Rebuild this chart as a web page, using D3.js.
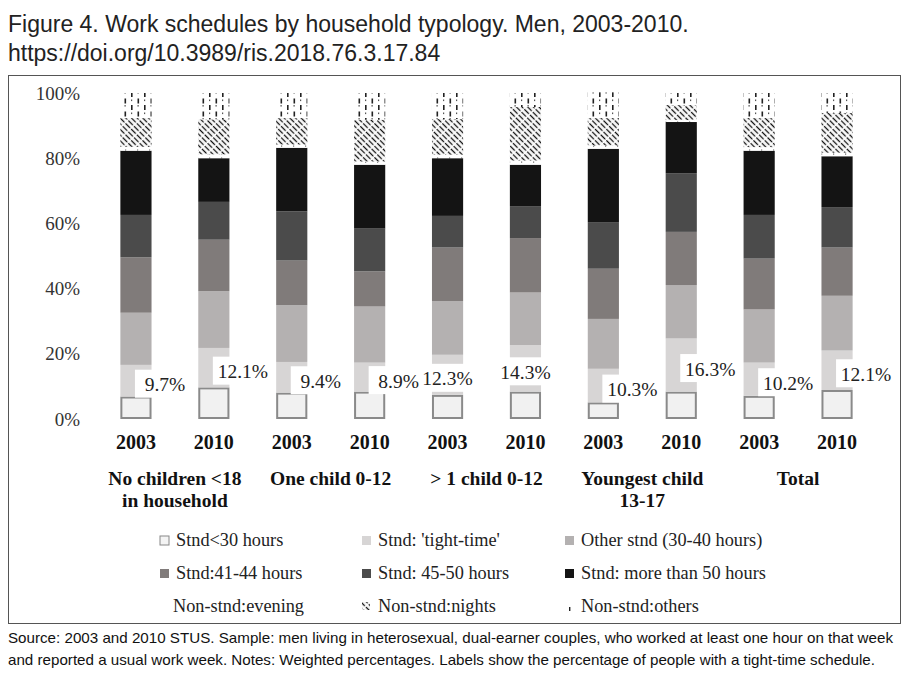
<!DOCTYPE html>
<html>
<head>
<meta charset="utf-8">
<script src="https://cdn.jsdelivr.net/npm/d3@7/dist/d3.min.js"></script>
<style>
  body { margin: 0; background: #fff; }
  svg { display: block; }
</style>
</head>
<body>
<svg id="chart" width="911" height="675"></svg>
<script>
// bars: household type x year
var years = ["2003", "2010", "2003", "2010", "2003", "2010", "2003", "2010", "2003", "2010"];
var groups = [["No children <18", "in household"], ["One child 0-12"], ["> 1 child 0-12"], ["Youngest child", "13-17"], ["Total"]];
var yTicks = [0, 20, 40, 60, 80, 100];

// percentages, stacked bottom to top
var under30  = [6.9, 9.7, 8.1, 8.4, 7.4, 8.4, 5.1, 8.4, 7.1, 8.9];
var tight    = [9.7, 12.1, 9.4, 8.9, 12.3, 14.3, 10.3, 16.3, 10.2, 12.1];
var other    = [16.0, 17.4, 17.4, 17.2, 16.5, 16.1, 15.3, 16.4, 16.3, 16.8];
var h41      = [17.0, 15.8, 13.7, 10.8, 16.4, 16.7, 15.4, 16.3, 15.6, 14.8];
var h45      = [13.0, 11.6, 15.1, 13.1, 9.7, 9.8, 14.3, 18.0, 13.4, 12.4];
var h50      = [19.7, 13.4, 19.5, 19.6, 17.7, 12.7, 22.5, 15.7, 19.7, 15.6];
var evening  = [1.2, 1.2, 1.0, 1.0, 1.1, 1.3, 1.0, 0.6, 1.1, 1.1];
var nights   = [8.8, 10.7, 8.1, 12.8, 10.9, 16.4, 8.4, 4.6, 8.9, 12.2];
var others   = [7.7, 8.1, 7.7, 8.2, 8.0, 4.3, 7.9, 3.7, 7.7, 6.1];

var seriesNames = ["Stnd<30 hours", "Stnd: 'tight-time'", "Other stnd (30-40 hours)",
  "Stnd:41-44 hours", "Stnd: 45-50 hours", "Stnd: more than 50 hours",
  "Non-stnd:evening", "Non-stnd:nights", "Non-stnd:others"];
var seriesValues = [under30, tight, other, h41, h45, h50, evening, nights, others];

var fills = ["#f1f1f1", "#d7d5d5", "#b4b1b1", "#807b7a", "#4b4b4b", "#141414",
  "url(#pEvening)", "url(#pNights)", "url(#pOthers)"];

var svg = d3.select("#chart");
var serif = "'Liberation Serif', 'Times New Roman', serif";
var sans = "'Liberation Sans', Arial, sans-serif";

// patterns
var defs = svg.append("defs");
var pe = defs.append("pattern").attr("id", "pEvening").attr("patternUnits", "userSpaceOnUse")
  .attr("width", 12).attr("height", 4);
pe.append("rect").attr("width", 12).attr("height", 4).attr("fill", "#fff");
pe.append("rect").attr("x", 5).attr("y", 1.5).attr("width", 1.2).attr("height", 1.2).attr("fill", "#666");

var pn = defs.append("pattern").attr("id", "pNights").attr("patternUnits", "userSpaceOnUse")
  .attr("width", 4).attr("height", 8).attr("patternTransform", "rotate(-45)");
pn.append("rect").attr("width", 4).attr("height", 8).attr("fill", "#fff");
pn.append("line").attr("x1", 1.5).attr("x2", 1.5).attr("y1", 0).attr("y2", 8)
  .attr("stroke", "#111").attr("stroke-width", 1.3).attr("stroke-dasharray", "6.5,1.5");

var po = defs.append("pattern").attr("id", "pOthers").attr("patternUnits", "userSpaceOnUse")
  .attr("width", 13).attr("height", 13);
po.append("rect").attr("width", 13).attr("height", 13).attr("fill", "#fff");
po.append("rect").attr("x", 1).attr("y", 1).attr("width", 1.6).attr("height", 5).attr("fill", "#222");
po.append("rect").attr("x", 7.5).attr("y", 7.5).attr("width", 1.6).attr("height", 5).attr("fill", "#222");
po.append("rect").attr("x", 7.5).attr("y", 1).attr("width", 1.2).attr("height", 1.6).attr("fill", "#555");
po.append("rect").attr("x", 1).attr("y", 8.5).attr("width", 1.2).attr("height", 1.6).attr("fill", "#555");

// title
svg.append("text").attr("x", 8).attr("y", 32)
  .attr("font-family", sans).attr("font-size", 23).attr("fill", "#222")
  .text("Figure 4. Work schedules by household typology. Men, 2003-2010.");
svg.append("text").attr("x", 8).attr("y", 61)
  .attr("font-family", sans).attr("font-size", 23).attr("fill", "#222")
  .text("https://doi.org/10.3989/ris.2018.76.3.17.84");

// frame
svg.append("rect").attr("x", 8.5).attr("y", 75.5).attr("width", 892).attr("height", 548)
  .attr("fill", "none").attr("stroke", "#555").attr("stroke-width", 1);

var x = d3.scaleBand().domain(d3.range(years.length)).range([97, 876]).paddingInner(0.6).paddingOuter(0.3);
var y = d3.scaleLinear().domain([0, 100]).range([419, 93]);

// y axis, no line
var yAxis = svg.append("g").attr("transform", "translate(80,0)")
  .call(d3.axisLeft(y).tickValues(yTicks).tickSize(0).tickPadding(0).tickFormat(function (d) { return d + "%"; }));
yAxis.select(".domain").remove();
yAxis.selectAll("text").attr("font-family", serif).attr("font-size", 19).attr("fill", "#333");

// stacked bars
var rows = years.map(function (yr, i) {
  var r = { i: i };
  seriesNames.forEach(function (s, k) { r[s] = seriesValues[k][i]; });
  return r;
});
var stacked = d3.stack().keys(seriesNames)(rows);

stacked.forEach(function (layer, k) {
  var g = svg.append("g");
  g.selectAll("rect").data(layer).join("rect")
    .attr("x", function (d) { return x(d.data.i) + (k === 0 ? 1 : 0); })
    .attr("width", x.bandwidth() - (k === 0 ? 2 : 0))
    .attr("y", function (d) { return y(d[1]) + (k === 0 ? 1 : 0); })
    .attr("height", function (d) { return Math.max(0, y(d[0]) - y(d[1]) - (k === 0 ? 2 : 0)); })
    .attr("fill", fills[k])
    .attr("stroke", k === 0 ? "#8a8a8a" : "none")
    .attr("stroke-width", k === 0 ? 2 : 0);
});

// tight-time labels with white background
var centered = [4, 5];
var tightLayer = stacked[1];
var labels = svg.append("g");
tightLayer.forEach(function (d) {
  var i = d.data.i;
  var cx = x(i) + x.bandwidth() / 2;
  var mid = centered.indexOf(i) >= 0;
  var tx = mid ? cx : cx + 29;
  var ty = y((d[0] + d[1]) / 2);
  var bx = mid ? cx - 27 : cx - 1;
  var bw = mid ? 54 : 60;
  labels.append("rect").attr("x", bx).attr("y", ty - 11).attr("width", bw).attr("height", 28).attr("fill", "#fff");
  labels.append("text").attr("x", tx).attr("y", ty + 10.5).attr("text-anchor", "middle")
    .attr("font-family", serif).attr("font-size", 19.5).attr("fill", "#222")
    .text(tight[i].toFixed(1) + "%");
});

// x labels
svg.append("g").selectAll("text").data(years).join("text")
  .attr("x", function (d, i) { return x(i) + x.bandwidth() / 2; })
  .attr("y", 449).attr("text-anchor", "middle")
  .attr("font-family", serif).attr("font-size", 20).attr("font-weight", "bold").attr("fill", "#111")
  .text(function (d) { return d; });

groups.forEach(function (lines, gi) {
  var cx = (x(gi * 2) + x(gi * 2 + 1) + x.bandwidth()) / 2;
  lines.forEach(function (ln, li) {
    svg.append("text").attr("x", cx).attr("y", 485 + li * 22).attr("text-anchor", "middle")
      .attr("font-family", serif).attr("font-size", 19.5).attr("font-weight", "bold").attr("fill", "#111")
      .text(ln);
  });
});

// legend, 3 columns
var legCols = [160, 362, 565];
var legRows = [540, 573, 606];
var legend = svg.append("g");
seriesNames.forEach(function (name, k) {
  var lx = legCols[k % 3], ly = legRows[Math.floor(k / 3)];
  if (k === 6) {
    // evening key is blank
  } else if (k === 8) {
    legend.append("rect").attr("x", lx + 4).attr("y", ly + 1).attr("width", 1.4).attr("height", 4).attr("fill", "#222");
  } else if (k === 7) {
    legend.append("rect").attr("x", lx).attr("y", ly - 4).attr("width", 8).attr("height", 8).attr("fill", fills[k]);
  } else {
    legend.append("rect").attr("x", lx).attr("y", ly - 4).attr("width", 9).attr("height", 9)
      .attr("fill", k === 0 ? "#f4f4f4" : fills[k])
      .attr("stroke", k === 0 ? "#888" : "none").attr("stroke-width", 1);
  }
  legend.append("text").attr("x", lx + (k === 6 ? 13 : 16)).attr("y", ly + 6)
    .attr("font-family", serif).attr("font-size", 18.3).attr("fill", "#222").text(name);
});

// source note
var narrow = "'Liberation Sans Narrow', 'Arial Narrow', 'Liberation Sans', sans-serif";
svg.append("text").attr("x", 8).attr("y", 643).attr("font-family", narrow).attr("font-size", 15)
  .attr("fill", "#111").attr("textLength", 885).attr("lengthAdjust", "spacingAndGlyphs")
  .text("Source: 2003 and 2010 STUS. Sample: men living in heterosexual, dual-earner couples, who worked at least one hour on that week");
svg.append("text").attr("x", 8).attr("y", 665).attr("font-family", narrow).attr("font-size", 15)
  .attr("fill", "#111").attr("textLength", 867).attr("lengthAdjust", "spacingAndGlyphs")
  .text("and reported a usual work week. Notes: Weighted percentages. Labels show the percentage of people with a tight-time schedule.");
</script>
</body>
</html>
